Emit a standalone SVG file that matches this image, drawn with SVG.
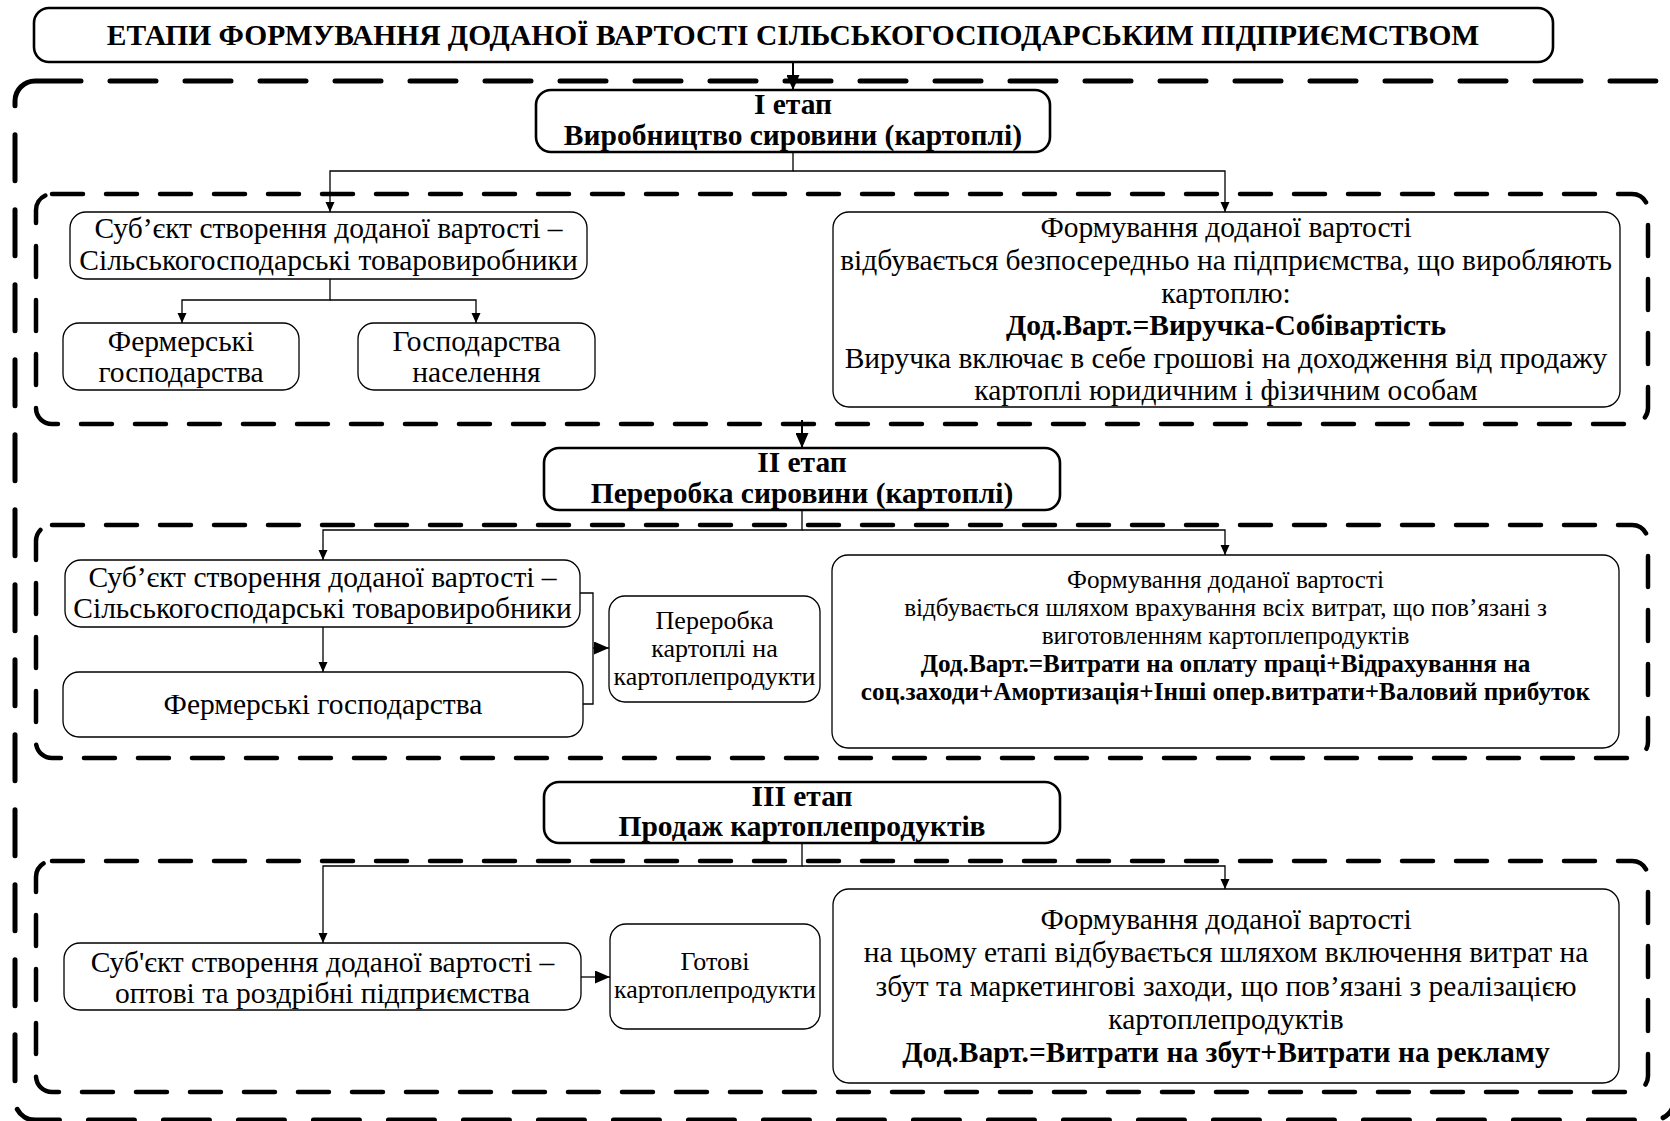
<svg xmlns="http://www.w3.org/2000/svg" width="1670" height="1121" viewBox="0 0 1670 1121" font-family="Liberation Serif, DejaVu Serif, serif">
<style>
  text { font-family: 'Liberation Serif', 'DejaVu Serif', serif; fill: #000; text-anchor: middle; }
  .t { font-size: 29.5px; }
  .s { font-size: 26px; }
  .m { font-size: 25.2px; }
  .b { font-weight: bold; }
  .node { fill: #fff; stroke: #000; stroke-width: 1.3; }
  .stage { fill: #fff; stroke: #000; stroke-width: 2.6; }
  .frame { fill: none; stroke: #000; stroke-width: 4.5; stroke-linecap: round; }
  .outer { stroke-dasharray: 46 29; stroke-width: 5; }
  .inner { stroke-dasharray: 31 23; }
  .c { fill: none; stroke: #000; stroke-width: 1.3; }
  .cb { fill: none; stroke: #000; stroke-width: 2; }
</style>
<defs>
  <marker id="a" markerUnits="userSpaceOnUse" markerWidth="10" markerHeight="10" refX="10" refY="5" orient="auto">
    <path d="M0,0.5 L10,5 L0,9.5 Z" fill="#000"/>
  </marker>
  <marker id="ab" markerUnits="userSpaceOnUse" markerWidth="15" markerHeight="13" refX="15" refY="6.5" orient="auto">
    <path d="M0,0 L15,6.5 L0,13 Z" fill="#000"/>
  </marker>
</defs>
<rect width="1670" height="1121" fill="#fff"/>

<g id="frames">
  <rect class="frame outer" x="15" y="81" width="1659" height="1039" rx="20"/>
  <rect class="frame inner" x="36" y="194" width="1612" height="230" rx="16"/>
  <rect class="frame inner" x="36" y="525" width="1612" height="233" rx="16"/>
  <rect class="frame inner" x="36" y="861" width="1612" height="231" rx="16"/>
</g>

<g id="connectors">
  <path class="cb" d="M793,62 V90" marker-end="url(#ab)"/>
  <path class="c" d="M793,152 V171 H330 V212" marker-end="url(#a)"/>
  <path class="c" d="M793,171 H1225 V212" marker-end="url(#a)"/>
  <path class="c" d="M330,279 V300 H182 V323" marker-end="url(#a)"/>
  <path class="c" d="M330,300 H476 V323" marker-end="url(#a)"/>
  <path class="cb" d="M802,420 V448" marker-end="url(#ab)"/>
  <path class="c" d="M802,510 V530 H323 V560" marker-end="url(#a)"/>
  <path class="c" d="M802,530 H1225 V555" marker-end="url(#a)"/>
  <path class="c" d="M323,627 V672" marker-end="url(#a)"/>
  <path class="c" d="M580,593 H593 V704 H583"/>
  <path class="c" d="M593,648 H609" marker-end="url(#ab)"/>
  <path class="c" d="M802,843 V866 H323 V943" marker-end="url(#a)"/>
  <path class="c" d="M802,866 H1225 V889" marker-end="url(#a)"/>
  <path class="c" d="M581,977 H610" marker-end="url(#ab)"/>
</g>

<g id="title">
  <rect class="stage" x="34" y="8" width="1519" height="54" rx="15"/>
  <text class="t b" x="793" y="45">ЕТАПИ ФОРМУВАННЯ ДОДАНОЇ ВАРТОСТІ СІЛЬСЬКОГОСПОДАРСЬКИМ ПІДПРИЄМСТВОМ</text>
</g>

<g id="stage1">
  <rect class="stage" x="536" y="90" width="514" height="62" rx="15"/>
  <text class="t b" x="793" y="114">I етап</text>
  <text class="t b" x="793" y="145">Виробництво сировини (картоплі)</text>
</g>

<g id="subject1">
  <rect class="node" x="70" y="212" width="517" height="67" rx="16"/>
  <text class="t" x="328.5" y="238">Суб’єкт створення доданої вартості –</text>
  <text class="t" x="328.5" y="270">Сільськогосподарські товаровиробники</text>
</g>

<g id="farms1">
  <rect class="node" x="63" y="323" width="236" height="67" rx="16"/>
  <text class="t" x="181" y="351">Фермерські</text>
  <text class="t" x="181" y="382">господарства</text>
</g>

<g id="households1">
  <rect class="node" x="358" y="323" width="237" height="67" rx="16"/>
  <text class="t" x="476.5" y="351">Господарства</text>
  <text class="t" x="476.5" y="382">населення</text>
</g>

<g id="value1">
  <rect class="node" x="833" y="212" width="787" height="195" rx="16"/>
  <text class="t" x="1226" y="237">Формування доданої вартості</text>
  <text class="t" x="1226" y="270">відбувається безпосередньо на підприємства, що виробляють</text>
  <text class="t" x="1226" y="303">картоплю:</text>
  <text class="t b" x="1226" y="335">Дод.Варт.=Виручка-Собівартість</text>
  <text class="t" x="1226" y="368">Виручка включає в себе грошові на доходження від продажу</text>
  <text class="t" x="1226" y="400">картоплі юридичним і фізичним особам</text>
</g>

<g id="stage2">
  <rect class="stage" x="544" y="448" width="516" height="62" rx="15"/>
  <text class="t b" x="802" y="472">II етап</text>
  <text class="t b" x="802" y="503">Переробка сировини (картоплі)</text>
</g>

<g id="subject2">
  <rect class="node" x="65" y="560" width="515" height="67" rx="16"/>
  <text class="t" x="322.5" y="587">Суб’єкт створення доданої вартості –</text>
  <text class="t" x="322.5" y="618">Сільськогосподарські товаровиробники</text>
</g>

<g id="farms2">
  <rect class="node" x="63" y="672" width="520" height="65" rx="16"/>
  <text class="t" x="323" y="714">Фермерські господарства</text>
</g>

<g id="processing">
  <rect class="node" x="609" y="596" width="211" height="106" rx="16"/>
  <text class="s" x="714.5" y="629">Переробка</text>
  <text class="s" x="714.5" y="657">картоплі на</text>
  <text class="s" x="714.5" y="685">картоплепродукти</text>
</g>

<g id="value2">
  <rect class="node" x="832" y="555" width="787" height="193" rx="16"/>
  <text class="m" x="1225.5" y="588">Формування доданої вартості</text>
  <text class="m" x="1225.5" y="616">відбувається шляхом врахування всіх витрат, що пов’язані з</text>
  <text class="m" x="1225.5" y="644">виготовленням картоплепродуктів</text>
  <text class="m b" x="1225.5" y="672">Дод.Варт.=Витрати на оплату праці+Відрахування на</text>
  <text class="m b" x="1225.5" y="700">соц.заходи+Амортизація+Інші опер.витрати+Валовий прибуток</text>
</g>

<g id="stage3">
  <rect class="stage" x="544" y="782" width="516" height="61" rx="15"/>
  <text class="t b" x="802" y="806">III етап</text>
  <text class="t b" x="802" y="836">Продаж картоплепродуктів</text>
</g>

<g id="subject3">
  <rect class="node" x="64" y="943" width="517" height="67" rx="16"/>
  <text class="t" x="322.5" y="972">Суб'єкт створення доданої вартості –</text>
  <text class="t" x="322.5" y="1003">оптові та роздрібні підприємства</text>
</g>

<g id="products">
  <rect class="node" x="610" y="924" width="210" height="105" rx="16"/>
  <text class="s" x="715" y="970">Готові</text>
  <text class="s" x="715" y="998">картоплепродукти</text>
</g>

<g id="value3">
  <rect class="node" x="833" y="889" width="786" height="194" rx="16"/>
  <text class="t" x="1226" y="929">Формування доданої вартості</text>
  <text class="t" x="1226" y="962">на цьому етапі відбувається шляхом включення витрат на</text>
  <text class="t" x="1226" y="996">збут та маркетингові заходи, що пов’язані з реалізацією</text>
  <text class="t" x="1226" y="1029">картоплепродуктів</text>
  <text class="t b" x="1226" y="1062">Дод.Варт.=Витрати на збут+Витрати на рекламу</text>
</g>
</svg>
